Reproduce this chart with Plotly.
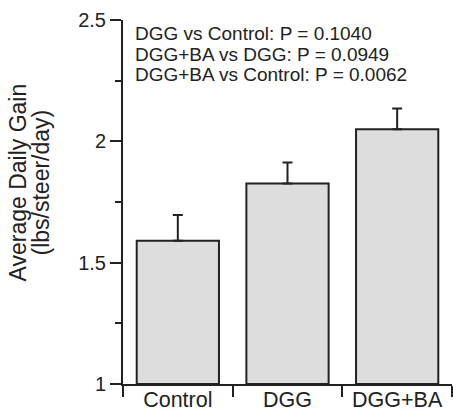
import plotly.graph_objects as go

categories = ["Control", "DGG", "DGG+BA"]
adg_means = [1.59, 1.826, 2.05]
adg_se = [0.106, 0.087, 0.085]
y_ticks = [1, 1.5, 2, 2.5]
y_tick_labels = ["1", "1.5", "2", "2.5"]
p_value_lines = [
    "DGG vs Control: P = 0.1040",
    "DGG+BA vs DGG: P = 0.0949",
    "DGG+BA vs Control: P = 0.0062",
]
y_title_lines = ["Average Daily Gain", "(lbs/steer/day)"]

FONT = "Liberation Sans, Arial, sans-serif"
INK = "#222222"

fig = go.Figure()
fig.add_trace(go.Bar(
    x=categories,
    y=[m - 1 for m in adg_means],
    base=1,
    width=0.75,
    marker=dict(color="#dcdddc", line=dict(color=INK, width=2)),
    error_y=dict(type="data", array=adg_se, arrayminus=[0] * len(adg_se),
                 symmetric=False, color=INK, thickness=2, width=5),
    hoverinfo="skip",
))

annotations = []
for i, line in enumerate(p_value_lines):
    annotations.append(dict(
        text=line, xref="paper", yref="paper", x=(132.5 - 123) / 329,
        y=(384 - 33.5 - 20.7 * i) / 364,
        xanchor="left", yanchor="middle", showarrow=False,
        font=dict(family=FONT, size=19, color=INK),
    ))
for i, line in enumerate(y_title_lines):
    annotations.append(dict(
        text=line, xref="paper", yref="paper",
        x=(17 + 23 * i - 123) / 329, y=(384 - 182.5) / 364,
        xanchor="center", yanchor="middle", showarrow=False, textangle=-90,
        font=dict(family=FONT, size=23, color=INK),
    ))

fig.update_layout(
    width=453, height=411,
    margin=dict(l=123, r=1, t=20, b=27, autoexpand=False),
    paper_bgcolor="white", plot_bgcolor="white",
    showlegend=False,
    bargap=0.25,
    annotations=annotations,
    xaxis=dict(
        type="category", range=[-0.5, 2.5],
        showline=True, linecolor=INK, linewidth=2,
        ticks="outside", tickson="boundaries", ticklen=11, tickwidth=2, tickcolor=INK,
        showgrid=False, zeroline=False,
        tickfont=dict(family=FONT, size=21.5, color=INK),
        ticklabelstandoff=-5,
    ),
    yaxis=dict(
        range=[1, 2.5],
        tickvals=y_ticks, ticktext=y_tick_labels,
        showline=True, linecolor=INK, linewidth=2,
        ticks="outside", ticklen=11, tickwidth=2, tickcolor=INK,
        minor=dict(dtick=0.25, tick0=1, ticks="outside", ticklen=6, tickwidth=2, tickcolor=INK),
        showgrid=False, zeroline=False,
        tickfont=dict(family=FONT, size=20, color=INK),
    ),
)

fig.write_html("out.html", config={"displayModeBar": False},
               post_script="document.body.style.margin='0';")
